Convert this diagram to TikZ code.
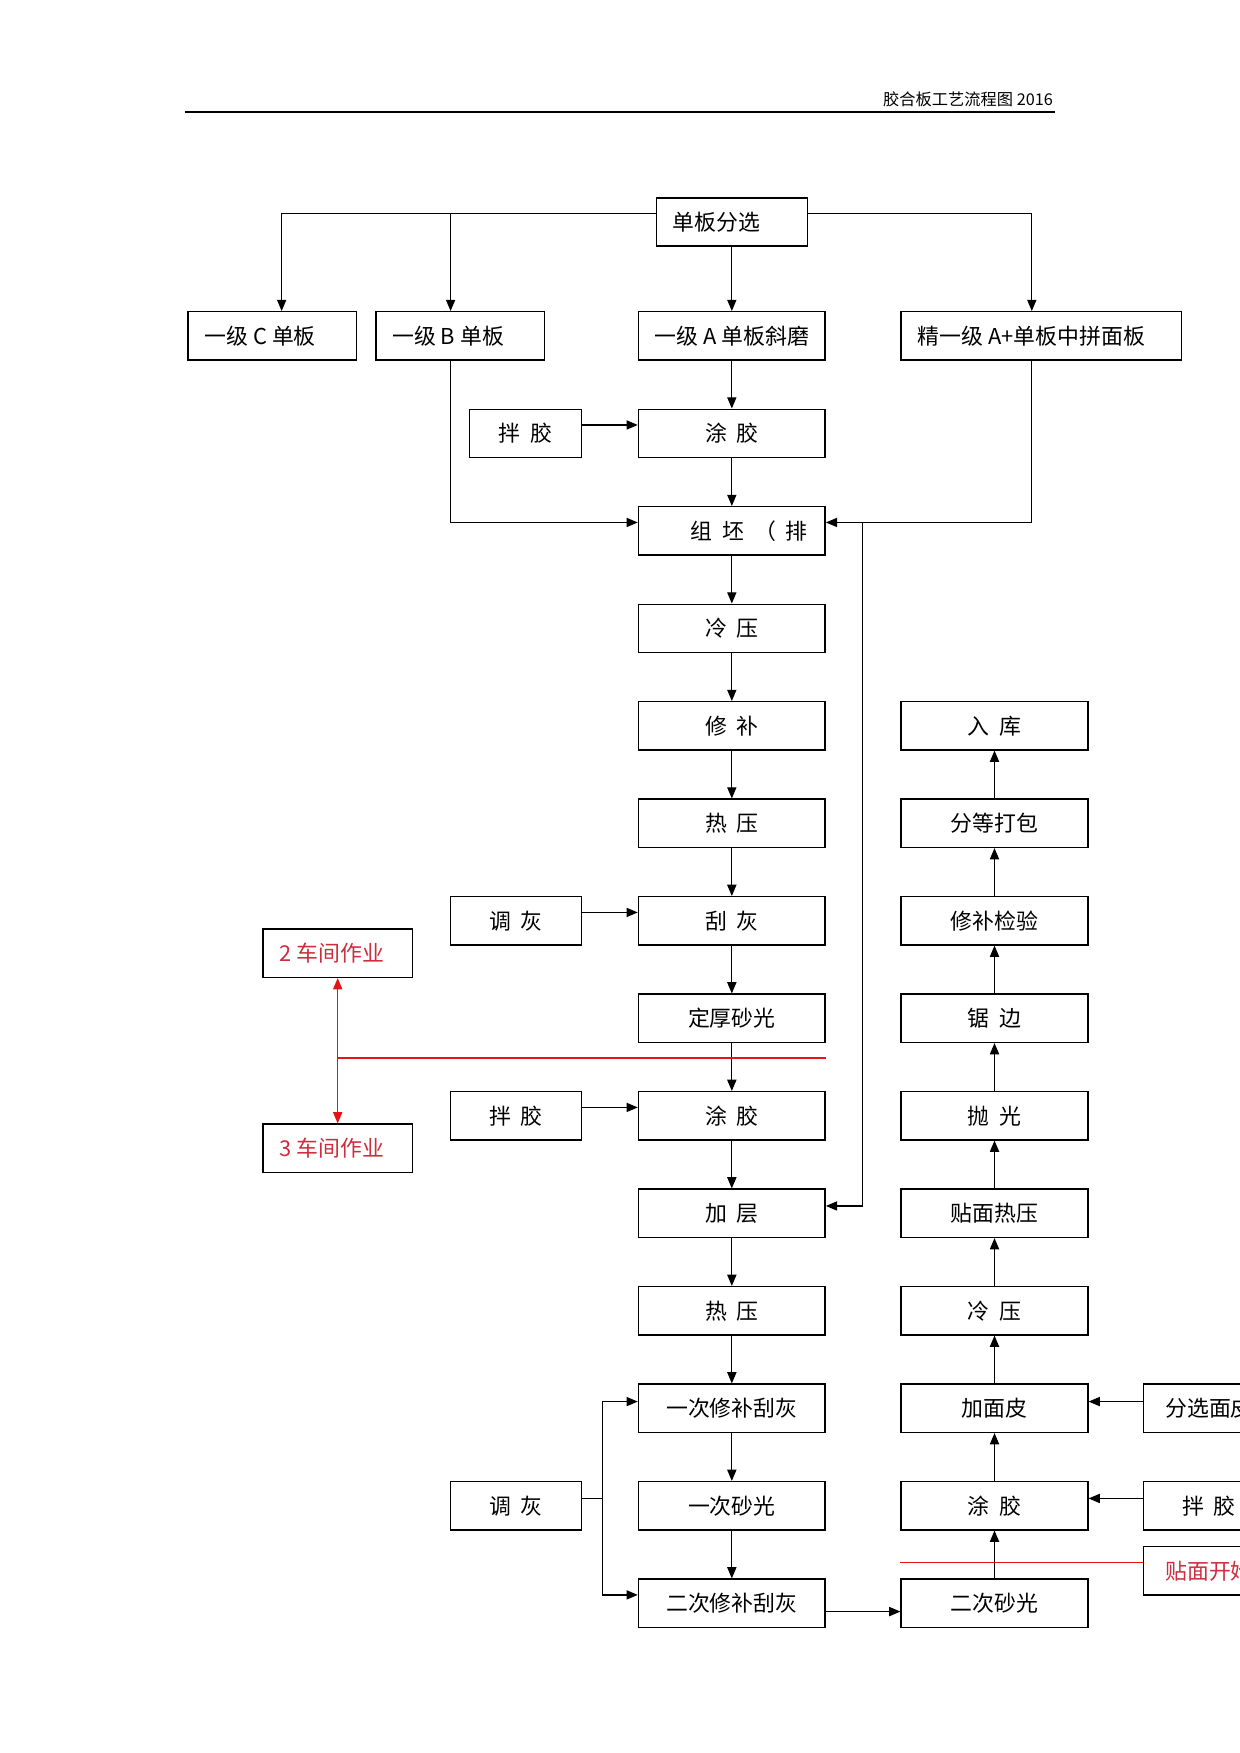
\documentclass[tikz,border=0pt]{standalone}
\usepackage{fontspec}
\setmainfont{Noto Sans CJK SC}
\usetikzlibrary{positioning, arrows.meta}
\definecolor{redtext}{RGB}{205,45,60}
\definecolor{redline}{RGB}{228,20,20}
\newcommand{\gp}{\hspace{0.45em}}
\newcommand{\padr}[1]{\hspace{#1}\null}

\begin{document}
\begin{tikzpicture}
    [
        node distance=46.8pt and 126.1pt, on grid, >={Triangle[length=5.4pt, width=4.4pt]},
        black_node/.style={rectangle, draw=black, line width=0.7pt, minimum height=23.1pt, minimum width=89.6pt, inner sep=0pt, font=\fontsize{10.5}{12}\selectfont},
        side_node/.style={black_node, minimum width=62.8pt},
        top_node/.style={black_node, minimum width=81pt},
        red_node/.style={black_node, minimum width=71.9pt, text=redtext},
        red_line/.style={line width=0.6pt, color=redline},
    ]
        \useasboundingbox (0,0) rectangle (595.2pt,-841.5pt) ;
        % page header
        \node[anchor=base east, inner sep=0pt, font=\fontsize{7.8}{9}\selectfont] (title) at (505.6pt,-50.5pt) {胶合板工艺流程图 2016} ;
        \coordinate (rule_l) at (88.6pt,-53.7pt) ;
        \coordinate (rule_r) at (506.6pt,-53.7pt) ;
        \draw[line width=0.6pt] (rule_l) -- (rule_r) ;
        % sorting of veneer
        \node[black_node, minimum width=72.5pt] (fenxuan) at (351.3pt,-106.5pt) {单板分选\padr{1.4em}} ;
        \node[black_node] (yijiA) [below = 54.7pt of fenxuan] {一级 A 单板斜磨} ;
        \node[top_node] (yijiC) [left = 220.6pt of yijiA] {一级 C 单板\padr{1.1em}} ;
        \node[top_node] (yijiB) [left = 130.4pt of yijiA] {一级 B 单板\padr{1.1em}} ;
        \node[black_node, minimum width=134.7pt] (jing) [right = 148.6pt of yijiA] {精一级 A+单板中拼面板\padr{0.9em}} ;
        % main column
        \node[black_node] (tujiao1) [below = of yijiA] {涂\gp 胶} ;
        \node[black_node] (zupi) [below = of tujiao1] {\hspace{1.6em}组\gp 坯\gp （\gp 排} ;
        \node[black_node] (lengya1) [below = of zupi] {冷\gp 压} ;
        \node[black_node] (xiubu) [below = of lengya1] {修\gp 补} ;
        \node[black_node] (reya1) [below = of xiubu] {热\gp 压} ;
        \node[black_node] (guahui) [below = of reya1] {刮\gp 灰} ;
        \node[black_node] (dinghou) [below = of guahui] {定厚砂光} ;
        \node[black_node] (tujiao2) [below = of dinghou] {涂\gp 胶} ;
        \node[black_node] (jiaceng) [below = of tujiao2] {加\gp 层} ;
        \node[black_node] (reya2) [below = of jiaceng] {热\gp 压} ;
        \node[black_node] (xiubu1) [below = of reya2] {一次修补刮灰} ;
        \node[black_node] (shaguang1) [below = of xiubu1] {一次砂光} ;
        \node[black_node] (xiubu2) [below = of shaguang1] {二次修补刮灰} ;
        % inputs on the left
        \node[side_node, minimum width=53.7pt] (banjiao1) [left = 99pt of tujiao1] {拌\gp 胶} ;
        \node[side_node] (tiaohui1) [left = 103.6pt of guahui] {调\gp 灰} ;
        \node[side_node] (banjiao2) [left = 103.6pt of tujiao2] {拌\gp 胶} ;
        \node[side_node] (tiaohui2) [left = 103.6pt of shaguang1] {调\gp 灰} ;
        \node[red_node] (chejian2) [below left = 15.6pt and 189.2pt of guahui] {2 车间作业\padr{0.5em}} ;
        \node[red_node] (chejian3) [below left = 15.6pt and 189.2pt of tujiao2] {3 车间作业\padr{0.5em}} ;
        % overlay column
        \node[black_node] (ruku) [right = of xiubu] {入\gp 库} ;
        \node[black_node] (fendeng) [right = of reya1] {分等打包} ;
        \node[black_node] (jianyan) [right = of guahui] {修补检验} ;
        \node[black_node] (jubian) [right = of dinghou] {锯\gp 边} ;
        \node[black_node] (paoguang) [right = of tujiao2] {抛\gp 光} ;
        \node[black_node] (tiemian) [right = of jiaceng] {贴面热压} ;
        \node[black_node] (lengya2) [right = of reya2] {冷\gp 压} ;
        \node[black_node] (jiamianpi) [right = of xiubu1] {加面皮} ;
        \node[black_node] (tujiao3) [right = of shaguang1] {涂\gp 胶} ;
        \node[black_node] (shaguang2) [right = of xiubu2] {二次砂光} ;
        \node[side_node] (mianpi) [right = 103pt of jiamianpi] {分选面皮} ;
        \node[side_node] (banjiao3) [right = 103pt of tujiao3] {拌\gp 胶} ;
        \node[side_node, text=redtext] (kaishi) [above right = 15.6pt and 103pt of shaguang2] {贴面开始} ;
        % helper points
        \coordinate (top_line) at ([yshift=4pt]fenxuan.west) ;
        \coordinate (c_in) at ([xshift=4.5pt]yijiC.north) ;
        \coordinate (b_in) at ([xshift=-4.6pt]yijiB.north) ;
        \coordinate (jing_in) at ([xshift=-4.6pt]jing.north) ;
        \coordinate (ret) at ([xshift=17.7pt, yshift=4pt]zupi.east) ;
        \coordinate (split) at ([xshift=9.7pt, yshift=3.5pt]tiaohui2.east) ;
        \coordinate (red_mark) at ([yshift=-19.1pt]dinghou.east) ;
        \coordinate (kaishi_in) at ([yshift=4pt]kaishi.west) ;
        % connectors
        \draw[->, line width=0.6pt] (top_line) -| (c_in) ;
        \draw[->, line width=0.6pt] (top_line -| b_in) -- (b_in) ;
        \draw[->, line width=0.6pt] ([yshift=4pt]fenxuan.east) -| (jing_in) ;
        \draw[->, line width=0.6pt] (fenxuan) -- (yijiA) ;
        \draw[->, line width=0.6pt] (b_in |- yijiB.south) |- ([yshift=4pt]zupi.west) ;
        \draw[->, line width=0.6pt] (jing_in |- jing.south) |- ([yshift=4pt]zupi.east) ;
        \draw[->, line width=0.6pt] (ret) |- ([yshift=3.5pt]jiaceng.east) ;
        \draw[->, line width=0.6pt] (yijiA) -- (tujiao1) ;
        \draw[->, line width=0.6pt] (tujiao1) -- (zupi) ;
        \draw[->, line width=0.6pt] (zupi) -- (lengya1) ;
        \draw[->, line width=0.6pt] (lengya1) -- (xiubu) ;
        \draw[->, line width=0.6pt] (xiubu) -- (reya1) ;
        \draw[->, line width=0.6pt] (reya1) -- (guahui) ;
        \draw[->, line width=0.6pt] (guahui) -- (dinghou) ;
        \draw[->, line width=0.6pt] (dinghou) -- (tujiao2) ;
        \draw[->, line width=0.6pt] (tujiao2) -- (jiaceng) ;
        \draw[->, line width=0.6pt] (jiaceng) -- (reya2) ;
        \draw[->, line width=0.6pt] (reya2) -- (xiubu1) ;
        \draw[->, line width=0.6pt] (xiubu1) -- (shaguang1) ;
        \draw[->, line width=0.6pt] (shaguang1) -- (xiubu2) ;
        \draw[->, line width=0.6pt] ([yshift=4pt]banjiao1.east) -- ([yshift=4pt]tujiao1.west) ;
        \draw[->, line width=0.6pt] ([yshift=4pt]tiaohui1.east) -- ([yshift=4pt]guahui.west) ;
        \draw[->, line width=0.6pt] ([yshift=4pt]banjiao2.east) -- ([yshift=4pt]tujiao2.west) ;
        \draw[line width=0.6pt] (tiaohui2.east |- split) -- (split) ;
        \draw[->, line width=0.6pt] (split) |- ([yshift=3.2pt]xiubu1.west) ;
        \draw[->, line width=0.6pt] (split) |- ([yshift=4pt]xiubu2.west) ;
        \draw[->, line width=0.6pt] ([yshift=-4pt]xiubu2.east) -- ([yshift=-4pt]shaguang2.west) ;
        \draw[->, line width=0.6pt] (shaguang2) -- (tujiao3) ;
        \draw[->, line width=0.6pt] (tujiao3) -- (jiamianpi) ;
        \draw[->, line width=0.6pt] (jiamianpi) -- (lengya2) ;
        \draw[->, line width=0.6pt] (lengya2) -- (tiemian) ;
        \draw[->, line width=0.6pt] (tiemian) -- (paoguang) ;
        \draw[->, line width=0.6pt] (paoguang) -- (jubian) ;
        \draw[->, line width=0.6pt] (jubian) -- (jianyan) ;
        \draw[->, line width=0.6pt] (jianyan) -- (fendeng) ;
        \draw[->, line width=0.6pt] (fendeng) -- (ruku) ;
        \draw[->, line width=0.6pt] ([yshift=3.2pt]mianpi.west) -- ([yshift=3.2pt]jiamianpi.east) ;
        \draw[->, line width=0.6pt] ([yshift=3.5pt]banjiao3.west) -- ([yshift=3.5pt]tujiao3.east) ;
        % workshop split
        \draw[<->, red_line] (chejian2) -- (chejian3) ;
        \draw[red_line] (chejian2.south |- red_mark) -- (red_mark) ;
        \draw[red_line] (shaguang2.west |- kaishi_in) -- (kaishi_in) ;
    \end{tikzpicture}
\end{document}
